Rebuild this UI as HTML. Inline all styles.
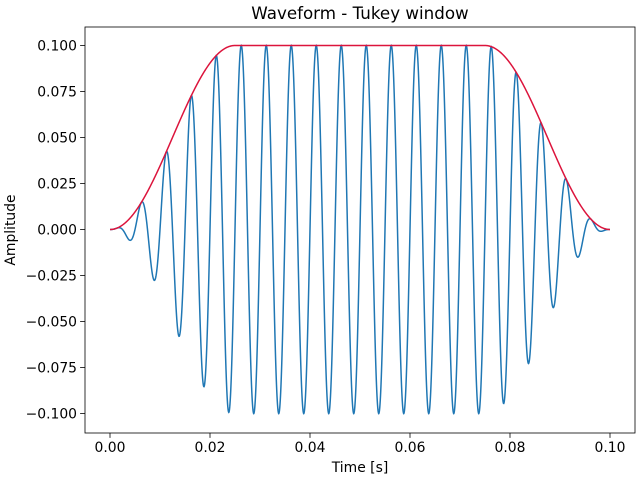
<!DOCTYPE html>
<html><head><meta charset="utf-8"><style>
body{margin:0;background:#fff}
svg text{font-family:"DejaVu Sans","Liberation Sans",sans-serif;font-size:13.9px;fill:#000}
</style></head><body>
<svg id="chart" width="640" height="480" viewBox="0 0 640 480" xmlns="http://www.w3.org/2000/svg">
<rect width="640" height="480" fill="#fff"/>
<text x="360" y="19" text-anchor="middle" style="font-size:16.7px">Waveform - Tukey window</text>
<text x="360" y="472" text-anchor="middle">Time [s]</text>
<text transform="translate(15,230) rotate(-90)" text-anchor="middle">Amplitude</text>
<g id="ticks"></g>
<clipPath id="clip"><rect x="85" y="27" width="550" height="406"/></clipPath>
<g id="series" clip-path="url(#clip)"></g>
<rect x="85" y="27" width="550" height="406" fill="none" stroke="#000" stroke-width="0.8"/>
</svg>
<script>
// signal parameters
const duration = [0, 0.1];
const frequency = [200];
const amplitude = [0.1];
const taperAlpha = [0.5];
const xTicks = [0, 0.02, 0.04, 0.06, 0.08, 0.10];
const xTickLabels = ["0.00","0.02","0.04","0.06","0.08","0.10"];
const yTicks = [-0.1,-0.075,-0.05,-0.025,0,0.025,0.05,0.075,0.1];
const yTickLabels = ["−0.100","−0.075","−0.050","−0.025","0.000","0.025","0.050","0.075","0.100"];

const NS="http://www.w3.org/2000/svg";
const X=v=>110+(v-0)/(0.1)*500;
const Y=v=>229.5-v/0.1*184;
const tg=document.getElementById('ticks');
function mk(t,a){const e=document.createElementNS(NS,t);for(const k in a)e.setAttribute(k,a[k]);return e;}
xTicks.forEach((v,i)=>{
  const l=mk('line',{x1:X(v),x2:X(v),y1:433,y2:437.9,stroke:'#000','stroke-width':0.8});
  
  
  tg.appendChild(l);
  const t=mk('text',{x:X(v),y:452,'text-anchor':'middle'});t.textContent=xTickLabels[i];
  
  
  tg.appendChild(t);
});
yTicks.forEach((v,i)=>{
  const l=mk('line',{x1:80.1,x2:85,y1:Y(v),y2:Y(v),stroke:'#000','stroke-width':0.8});
  
  
  tg.appendChild(l);
  const t=mk('text',{x:77,y:Y(v)+5,'text-anchor':'end'});t.textContent=yTickLabels[i];
  
  
  tg.appendChild(t);
});
const N=2000,T=duration[1]-duration[0],a=taperAlpha[0];
function win(t){const x=(t-duration[0])/T;
  if(x<a/2)return 0.5*(1-Math.cos(2*Math.PI*x/a));
  if(x>1-a/2)return 0.5*(1-Math.cos(2*Math.PI*(1-x)/a));return 1;}
let pw='',pe='';
for(let i=0;i<=N;i++){const t=duration[0]+T*i/N;const w=win(t)*amplitude[0];
  const s=w*Math.sin(2*Math.PI*frequency[0]*t);
  pw+=(i?'L':'M')+X(t).toFixed(2)+','+Y(s).toFixed(2);
  pe+=(i?'L':'M')+X(t).toFixed(2)+','+Y(w).toFixed(2);}
const sg=document.getElementById('series');
const p1=mk('path',{d:pw,fill:'none',stroke:'#1f77b4','stroke-width':1.5});


sg.appendChild(p1);
const p2=mk('path',{d:pe,fill:'none',stroke:'#dc143c','stroke-width':1.5});


sg.appendChild(p2);
</script>
</body></html>
